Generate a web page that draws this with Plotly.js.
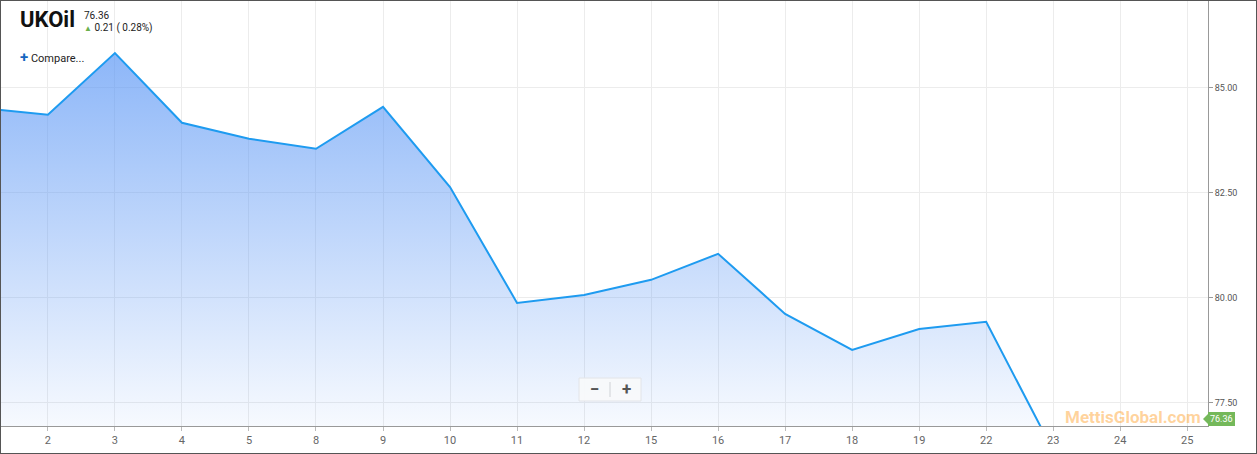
<!DOCTYPE html>
<html>
<head>
<meta charset="utf-8">
<script src="https://cdn.plot.ly/plotly-3.0.1.min.js"></script>
<style>
html,body{margin:0;padding:0;background:#fff;}
#wrap{width:1255px;height:452px;border:1px solid #555;}
#chart{width:1255px;height:452px;}
</style>
</head>
<body>
<div id="wrap"><div id="chart"></div></div>
<script>
// Data
const dayLabels = ["", "2", "3", "4", "5", "8", "9", "10", "11", "12", "15", "16", "17", "18", "19", "22", "23", "24", "25"];
const closeValues = [84.52, 84.36, 85.83, 84.17, 83.79, 83.55, 84.55, 82.64, 79.88, 80.07, 80.43, 81.05, 79.62, 78.76, 79.26, 79.43, 76.36];
const yTicks = [77.5, 80, 82.5, 85];
const symbol = "UKOil";
const lastPrice = "76.36";
const change = "0.21 ( 0.28%)";

const xIdx = closeValues.map((v, i) => i - 1);
const tickIdx = dayLabels.map((d, i) => i - 1).slice(1);
const tickText = dayLabels.slice(1);

// page px -> paper coordinates (plot area x:1..1208, y:1..426 in page)
const PX0 = 1, PX1 = 1208, PY0 = 1, PY1 = 426;
const px = x => (x - PX0) / (PX1 - PX0);
const py = y => (PY1 - y) / (PY1 - PY0);

const trace = {
  x: xIdx, y: closeValues, type: 'scatter', mode: 'lines',
  line: {color: '#1e9bf0', width: 2},
  fill: 'tozeroy',
  fillgradient: {
    type: 'vertical', start: 76.95, stop: 86.2,
    colorscale: [[0, 'rgba(90,150,245,0.05)'], [1, 'rgba(90,150,245,0.72)']]
  },
  hoverinfo: 'skip', cliponaxis: true
};

const font = 'Roboto, "Open Sans", sans-serif';

const layout = {
  width: 1255, height: 452,
  margin: {l: 0, r: 48, t: 0, b: 27},
  paper_bgcolor: '#fff', plot_bgcolor: '#fff',
  showlegend: false,
  xaxis: {
    range: [-0.7, 17.31], tickvals: tickIdx, ticktext: tickText,
    showgrid: true, gridcolor: '#ececec', gridwidth: 1,
    showline: true, linecolor: '#999', linewidth: 1,
    ticks: 'outside', ticklen: 4, tickcolor: '#bbb',
    tickfont: {family: font, size: 11, color: '#666'},
    zeroline: false, fixedrange: true
  },
  yaxis: {
    side: 'right', range: [76.95, 87.07], tickvals: yTicks, tickformat: '.2f',
    showgrid: true, gridcolor: '#ececec', gridwidth: 1,
    showline: true, linecolor: '#999', linewidth: 1,
    ticks: 'outside', ticklen: 4, tickcolor: '#999',
    tickfont: {family: font, size: 9, color: '#555'},
    zeroline: false, fixedrange: true
  },
  shapes: [
    {type: 'rect', xref: 'paper', yref: 'paper', x0: px(579), x1: px(641), y0: py(378), y1: py(401),
     fillcolor: 'rgba(248,249,251,0.95)', line: {color: '#e2e4e8', width: 1}, layer: 'above'},
    {type: 'line', xref: 'paper', yref: 'paper', x0: px(610), x1: px(610), y0: py(382), y1: py(397),
     line: {color: '#cfd2d6', width: 1}, layer: 'above'},
    {type: 'path', xref: 'paper', yref: 'paper',
     path: 'M ' + px(1203) + ' ' + py(419) + ' L ' + px(1208) + ' ' + py(414) + ' L ' + px(1208) + ' ' + py(424) + ' Z',
     fillcolor: '#74b85a', line: {width: 0}, layer: 'above'}
  ],
  annotations: [
    {xref: 'paper', yref: 'paper', x: px(18), y: py(20), xanchor: 'left', yanchor: 'middle',
     text: '<b>' + symbol + '</b>', showarrow: false, font: {family: font, size: 22, color: '#111'}},
    {xref: 'paper', yref: 'paper', x: px(82), y: py(16), xanchor: 'left', yanchor: 'middle',
     text: lastPrice, showarrow: false, font: {family: font, size: 10, color: '#222'}},
    {xref: 'paper', yref: 'paper', x: px(82), y: py(28), xanchor: 'left', yanchor: 'middle',
     text: '<span style="color:#6ab04c;font-size:8px">▲</span> ' + change, showarrow: false, font: {family: font, size: 10, color: '#222'}},
    {xref: 'paper', yref: 'paper', x: px(18), y: py(57), xanchor: 'left', yanchor: 'middle',
     text: '<span style="color:#1565c0;font-size:15px"><b>+</b></span> Compare...', showarrow: false, font: {family: font, size: 11, color: '#222'}},
    {xref: 'paper', yref: 'paper', x: px(594), y: py(389), xanchor: 'center', yanchor: 'middle',
     text: '<b>−</b>', showarrow: false, font: {family: font, size: 17, color: '#555'}},
    {xref: 'paper', yref: 'paper', x: px(626), y: py(389), xanchor: 'center', yanchor: 'middle',
     text: '<b>+</b>', showarrow: false, font: {family: font, size: 17, color: '#555'}},
    {xref: 'paper', yref: 'paper', x: px(1203), y: py(417), xanchor: 'right', yanchor: 'middle',
     text: '<b>MettisGlobal.com</b>', showarrow: false, font: {family: font, size: 17, color: 'rgba(255,168,60,0.5)'}},
    {xref: 'paper', yref: 'paper', x: px(1208), y: py(419), xanchor: 'left', yanchor: 'middle',
     text: lastPrice, showarrow: false, bgcolor: '#74b85a', borderpad: 2, borderwidth: 0,
     font: {family: font, size: 9, color: '#fff'}}
  ]
};

Plotly.newPlot('chart', [trace], layout, {displayModeBar: false, staticPlot: true});
</script>
</body>
</html>
